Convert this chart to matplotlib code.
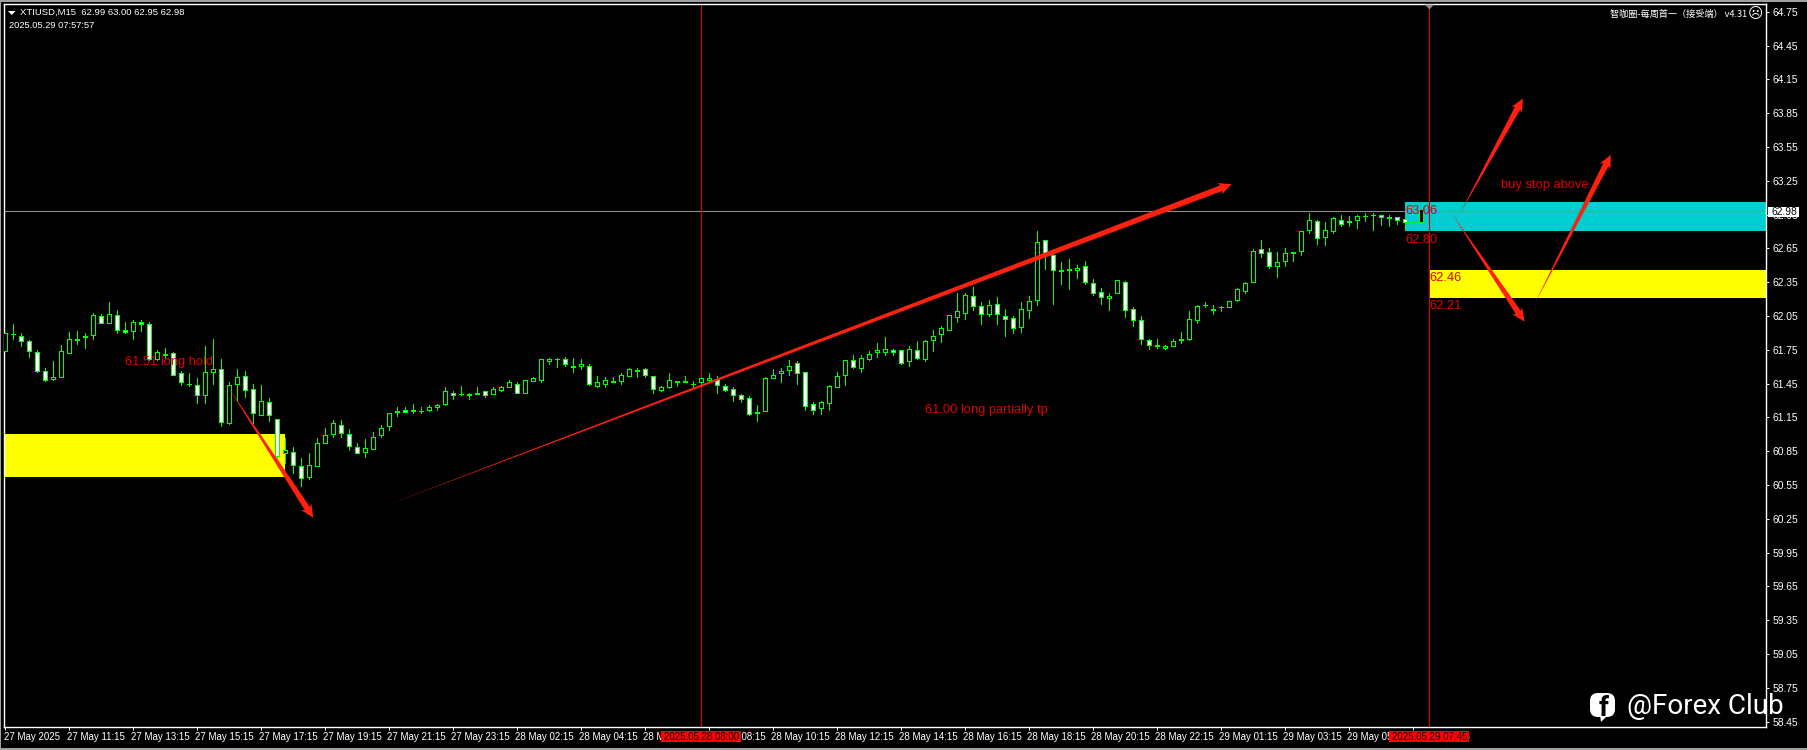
import matplotlib
matplotlib.use('Agg')
import matplotlib.pyplot as plt
from matplotlib.patches import Polygon, Rectangle, FancyBboxPatch
from matplotlib.transforms import IdentityTransform
import numpy as np

W, H = 1808, 750
plt.rcParams['font.family'] = ['Liberation Sans', 'DejaVu Sans']

# XTIUSD M15 bars
highs = [61.90,61.98,61.90,61.84,61.75,61.59,61.65,61.79,61.91,61.92,
         61.90,62.08,62.07,62.17,62.10,62.00,62.01,62.01,62.00,61.75,
         61.77,61.73,61.56,61.54,61.50,61.78,61.85,61.67,61.46,61.58,
         61.56,61.45,61.44,61.32,61.14,60.97,60.89,60.79,60.83,60.97,
         61.06,61.13,61.13,61.05,60.92,60.96,61.02,61.08,61.19,61.24,
         61.24,61.27,61.24,61.26,61.27,61.42,61.38,61.43,61.37,61.42,
         61.38,61.42,61.43,61.48,61.46,61.48,61.51,61.67,61.68,61.68,
         61.69,61.68,61.67,61.62,61.52,61.51,61.51,61.54,61.59,61.59,
         61.59,61.52,61.43,61.54,61.47,61.52,61.47,61.50,61.54,61.52,
         61.45,61.42,61.36,61.34,61.26,61.51,61.58,61.59,61.66,61.65,
         61.55,61.29,61.30,61.44,61.55,61.66,61.70,61.70,61.74,61.81,
         61.86,61.76,61.75,61.78,61.83,61.84,61.93,61.96,62.06,62.25,
         62.25,62.31,62.17,62.19,62.22,62.11,62.05,62.17,62.23,62.80,
         62.72,62.64,62.53,62.56,62.50,62.54,62.38,62.30,62.25,62.37,
         62.36,62.13,62.05,61.85,61.85,61.79,61.85,61.91,62.09,62.15,
         62.17,62.15,62.14,62.18,62.30,62.35,62.64,62.72,62.65,62.62,
         62.65,62.62,62.80,62.96,62.90,62.88,62.93,62.95,62.94,62.95,
         62.96,62.96,62.95,62.95,62.93,62.91,62.89,63.00]
lows = [61.74,61.85,61.78,61.69,61.55,61.47,61.48,61.51,61.72,61.80,
        61.77,61.85,61.99,61.99,61.90,61.90,61.85,61.92,61.66,61.66,
        61.68,61.53,61.44,61.43,61.28,61.28,61.45,61.07,61.09,61.30,
        61.33,61.10,61.17,61.12,60.76,60.75,60.66,60.54,60.60,60.72,
        60.92,60.98,60.98,60.86,60.83,60.80,60.87,60.98,61.04,61.16,
        61.20,61.19,61.19,61.21,61.22,61.26,61.31,61.35,61.31,61.36,
        61.33,61.36,61.38,61.42,61.37,61.37,61.47,61.46,61.62,61.60,
        61.61,61.55,61.58,61.44,61.42,61.42,61.46,61.45,61.52,61.51,
        61.51,61.37,61.38,61.41,61.43,61.46,61.42,61.45,61.47,61.37,
        61.38,61.30,61.29,61.17,61.12,61.21,61.50,61.46,61.53,61.45,
        61.22,61.18,61.18,61.22,61.42,61.44,61.59,61.55,61.66,61.69,
        61.70,61.70,61.62,61.61,61.67,61.65,61.74,61.82,61.93,62.00,
        62.02,62.10,61.98,62.05,61.98,61.87,61.90,61.91,62.03,62.15,
        62.47,62.16,62.33,62.29,62.39,62.33,62.24,62.16,62.10,62.25,
        62.04,61.96,61.80,61.76,61.77,61.76,61.78,61.81,61.84,61.99,
        62.13,62.07,62.09,62.13,62.18,62.25,62.35,62.57,62.48,62.40,
        62.49,62.54,62.59,62.79,62.69,62.68,62.79,62.85,62.85,62.83,
        62.89,62.81,62.86,62.85,62.87,62.83,62.86,62.88]
opens = [61.74,61.89,61.87,61.83,61.73,61.56,61.49,61.51,61.72,61.84,
         61.86,61.88,62.05,61.99,62.06,61.93,61.92,62.00,61.98,61.67,
         61.70,61.72,61.54,61.45,61.44,61.35,61.55,61.58,61.10,61.45,
         61.52,61.40,61.17,61.29,61.14,60.83,60.84,60.72,60.62,60.72,
         60.92,61.00,61.08,61.00,60.89,60.84,60.87,60.99,61.07,61.20,
         61.22,61.21,61.21,61.22,61.24,61.27,61.37,61.36,61.35,61.36,
         61.38,61.36,61.39,61.42,61.45,61.37,61.47,61.48,61.65,61.67,
         61.67,61.60,61.61,61.61,61.43,61.45,61.46,61.47,61.52,61.56,
         61.58,61.52,61.39,61.42,61.46,61.46,61.45,61.46,61.48,61.49,
         61.43,61.40,61.35,61.32,61.19,61.21,61.50,61.54,61.57,61.63,
         61.55,61.27,61.23,61.28,61.42,61.53,61.66,61.59,61.67,61.73,
         61.73,61.75,61.75,61.65,61.75,61.67,61.84,61.89,61.93,62.04,
         62.08,62.23,62.14,62.07,62.16,62.05,62.03,61.95,62.10,62.19,
         62.72,62.59,62.45,62.46,62.46,62.49,62.34,62.26,62.21,62.25,
         62.35,62.11,62.01,61.84,61.78,61.77,61.78,61.84,61.85,62.01,
         62.15,62.10,62.13,62.13,62.19,62.27,62.35,62.64,62.62,62.49,
         62.54,62.61,62.63,62.81,62.89,62.75,62.80,62.90,62.88,62.90,
         62.94,62.95,62.95,62.92,62.93,62.91,62.88,62.88]
closes = [61.90,61.89,61.83,61.74,61.56,61.48,61.51,61.74,61.85,61.85,
          61.87,62.06,61.99,62.07,61.93,61.91,62.00,61.98,61.67,61.73,
          61.71,61.53,61.46,61.45,61.35,61.55,61.58,61.11,61.44,61.51,
          61.39,61.19,61.30,61.17,60.81,60.86,60.73,60.61,60.73,60.92,
          60.99,61.10,61.01,60.90,60.83,60.88,60.98,61.06,61.19,61.21,
          61.20,61.22,61.21,61.24,61.26,61.38,61.35,61.36,61.36,61.37,
          61.35,61.40,61.42,61.46,61.37,61.48,61.50,61.67,61.67,61.67,
          61.62,61.61,61.62,61.45,61.46,61.48,61.47,61.53,61.58,61.57,
          61.53,61.40,61.42,61.48,61.47,61.47,61.45,61.50,61.50,61.44,
          61.39,61.35,61.31,61.18,61.20,61.50,61.53,61.56,61.61,61.54,
          61.25,61.22,61.29,61.43,61.52,61.66,61.60,61.68,61.71,61.75,
          61.76,61.73,61.63,61.76,61.68,61.83,61.87,61.94,62.06,62.09,
          62.24,62.14,62.07,62.15,62.07,62.02,61.94,62.11,62.18,62.71,
          62.61,62.46,62.46,62.47,62.48,62.35,62.25,62.22,62.23,62.37,
          62.10,62.01,61.85,61.79,61.79,61.78,61.83,61.85,62.02,62.14,
          62.15,62.11,62.13,62.18,62.29,62.34,62.63,62.61,62.49,62.53,
          62.61,62.62,62.80,62.90,62.74,62.81,62.92,62.87,62.89,62.94,
          62.94,62.95,62.93,62.93,62.90,62.88,62.88,63.00]

price_ticks = [64.75,64.45,64.15,63.85,63.55,63.25,62.95,62.65,62.35,62.05,61.75,
               61.45,61.15,60.85,60.55,60.25,59.95,59.65,59.35,59.05,58.75,58.45]
time_ticks = list(range(0, 177, 8))
time_labels = ['27 May 2025','27 May 11:15','27 May 13:15','27 May 15:15','27 May 17:15',
               '27 May 19:15','27 May 21:15','27 May 23:15','28 May 02:15','28 May 04:15',
               '28 May 06:15','28 May 08:15','28 May 10:15','28 May 12:15','28 May 14:15',
               '28 May 16:15','28 May 18:15','28 May 20:15','28 May 22:15','29 May 01:15',
               '29 May 03:15','29 May 05:15','29 May 07:15']

last_price = 62.98
# zones: first bar, top price, bottom price, colour
zone_start = [0, 175, 178]
zone_top = [61.00, 63.06, 62.46]
zone_bottom = [60.62, 62.80, 62.21]
zone_color = ['#ffff00', '#00ced1', '#ffff00']
vline_bars = [87, 178]
vline_labels = ['2025.05.28 08:00', '2025.05.29 07:45']

# drawn arrows: tail (bar, price), tip (bar, price)
arrow_tail_x = [27.67, 46.9, 181.75, 191.1, 180.8]
arrow_tail_y = [61.44, 60.35, 62.95, 62.15, 62.96]
arrow_tip_x = [38.5, 153.3, 189.7, 200.7, 189.9]
arrow_tip_y = [60.26, 63.22, 63.98, 63.48, 62.00]

fig = plt.figure(figsize=(W / 100, H / 100), dpi=100, facecolor='black')
L, R, T, B = 4, 1766, 4, 727
ax = fig.add_axes([L / W, 1 - B / H, (R - L) / W, (B - T) / H], facecolor='black')
ax.set_xlim((L - 5.33) / 8, (R - 5.33) / 8)
ax.set_ylim(64.75 - (B - 11.7) / 112.7, 64.75 + (11.7 - T) / 112.7)

for s in ax.spines.values():
    s.set_color('white')
    s.set_linewidth(1)
ax.yaxis.tick_right()
ax.set_yticks(price_ticks)
ax.set_yticklabels(['%.2f' % p for p in price_ticks], fontsize=7.4, color='white')
ax.set_xticks(time_ticks)
ax.set_xticklabels([])
ax.tick_params(axis='y', color='white', length=2.5, width=0.7, pad=2.5)
ax.tick_params(axis='x', color='white', length=2.5, width=0.7)

for s, t, b, c in zip(zone_start, zone_top, zone_bottom, zone_color):
    x0 = ax.get_xlim()[0] if s == 0 else s
    x1 = 35 if s == 0 else ax.get_xlim()[1]
    ax.add_patch(Rectangle((x0, b), x1 - x0, t - b, facecolor=c, edgecolor='none', zorder=1))

ax.axhline(last_price, color='#8c8c8c', lw=0.8, zorder=2)
for v in vline_bars:
    ax.axvline(v, color='#e00000', lw=0.8, zorder=2)

# candles
x = np.arange(len(opens))
o = np.array(opens)
c = np.array(closes)
ax.vlines(x, lows, highs, color='#00ff00', lw=0.72, zorder=3, antialiased=False)
fills = ['white' if cl < op else 'black' for op, cl in zip(o, c)]
ax.bar(x, np.abs(c - o), bottom=np.minimum(o, c), width=0.5, color=fills,
       edgecolor='#00ff00', linewidth=0.72, zorder=4, antialiased=False)


def wedge(x0, y0, x1, y1):
    p0 = ax.transData.transform((x0, y0))
    p1 = ax.transData.transform((x1, y1))
    d = (p1 - p0) / np.hypot(*(p1 - p0))
    n = np.array([-d[1], d[0]])
    neck = p1 - d * 11
    wing = p1 - d * 13
    pts = [p0, neck + n * 3, wing + n * 6, p1, wing - n * 6, neck - n * 3]
    ax.add_patch(Polygon(pts, closed=True, facecolor='#ff2010', edgecolor='none',
                         transform=IdentityTransform(), zorder=5, clip_on=False))


fig.canvas.draw()
for a, b_, c_, d_ in zip(arrow_tail_x, arrow_tail_y, arrow_tip_x, arrow_tip_y):
    wedge(a, b_, c_, d_)


def px_text(px, py, s, **kw):
    kw.setdefault('va', 'center')
    kw.setdefault('ha', 'left')
    kw.setdefault('color', 'white')
    return fig.text(px / W, 1 - py / H, s, **kw)


red = '#e00000'
px_text(125.5, 362, '61.51 long hold', color=red, fontsize=9.3, zorder=10)
px_text(925, 410, '61.00 long partially tp', color=red, fontsize=9.3)
px_text(1501.5, 185, 'buy stop above', color=red, fontsize=9.3)
px_text(1405, 211, '63.06', color=red, fontsize=9.3)
px_text(1405, 240, '62.80', color=red, fontsize=9.3)
px_text(1429, 278, '62.46', color=red, fontsize=9.3)
px_text(1429, 306, '62.21', color=red, fontsize=9.3)

# time axis labels, the red boxes cover some of them
for t, s in zip(time_ticks, time_labels):
    tick_px = 5.33 + 8 * t
    px_text(max(tick_px - 2, 4.5), 737, s, fontsize=7)
for v, s in zip(vline_bars, vline_labels):
    cx = 5.33 + 8 * v
    fig.patches.append(Rectangle(((cx - 40) / W, 1 - 742 / H), 80 / W, 11 / H, facecolor='#ff0000',
                                 edgecolor='none', transform=fig.transFigure, zorder=5))
    px_text(cx, 736.5, s, ha='center', color='black', fontsize=7, zorder=6)

# last price box
fig.patches.append(Rectangle((1768 / W, 1 - 217 / H), 31 / W, 10.5 / H, facecolor='white',
                             edgecolor='none', transform=fig.transFigure, zorder=5))
px_text(1772, 211.7, '%.2f' % last_price, color='black', fontsize=7.4, zorder=6)

# header
fig.patches.append(Polygon([(8 / W, 1 - 11 / H), (15.5 / W, 1 - 11 / H), (11.7 / W, 1 - 15 / H)],
                           closed=True, facecolor='white', edgecolor='none',
                           transform=fig.transFigure, zorder=5))
px_text(20, 12.5, 'XTIUSD,M15  62.99 63.00 62.95 62.98', fontsize=6.8)
px_text(9, 25.5, '2025.05.29 07:57:57', fontsize=6.7)
px_text(1747.5, 14, '智咖圈-每周首一（接受端） v4.31', ha='right', fontsize=6.6,
        family=['Noto Sans CJK SC', 'DejaVu Sans'])
px_text(1755, 13.5, '\u2639', ha='center', fontsize=10.5, family=['DejaVu Sans'])
fig.patches.append(Polygon([(1425 / W, 1 - 4.5 / H), (1434 / W, 1 - 4.5 / H), (1429.5 / W, 1 - 9.5 / H)],
                           closed=True, facecolor='#8c8c96', edgecolor='none',
                           transform=fig.transFigure, zorder=5))

# watermark, icon in pixels from the bottom left
fig.patches.append(FancyBboxPatch((1594, H - 713), 17, 16, boxstyle='round,pad=4,rounding_size=8',
                                  facecolor='white', edgecolor='none',
                                  transform=IdentityTransform(), zorder=7))
fig.patches.append(Polygon([(1600, H - 715), (1608, H - 715), (1601, H - 722)], closed=True,
                           facecolor='white', edgecolor='none',
                           transform=IdentityTransform(), zorder=7))
px_text(1604, 708, 'f', ha='center', color='black', fontsize=20, fontweight='bold',
        family=['Roboto', 'DejaVu Sans'], zorder=8)
px_text(1627, 706, '@Forex Club', fontsize=20,
        family=['Roboto', 'DejaVu Sans'], zorder=8)

# window frame strips
for rect in [(0, 0, W, 1.5), (0, 748, W, 2), (0, 0, 1, H)]:
    fig.patches.append(Rectangle((rect[0] / W, 1 - (rect[1] + rect[3]) / H), rect[2] / W, rect[3] / H,
                                 facecolor='#a0a0a0', edgecolor='none',
                                 transform=fig.transFigure, zorder=9))

fig.savefig('out.png', dpi=100, facecolor='black')
